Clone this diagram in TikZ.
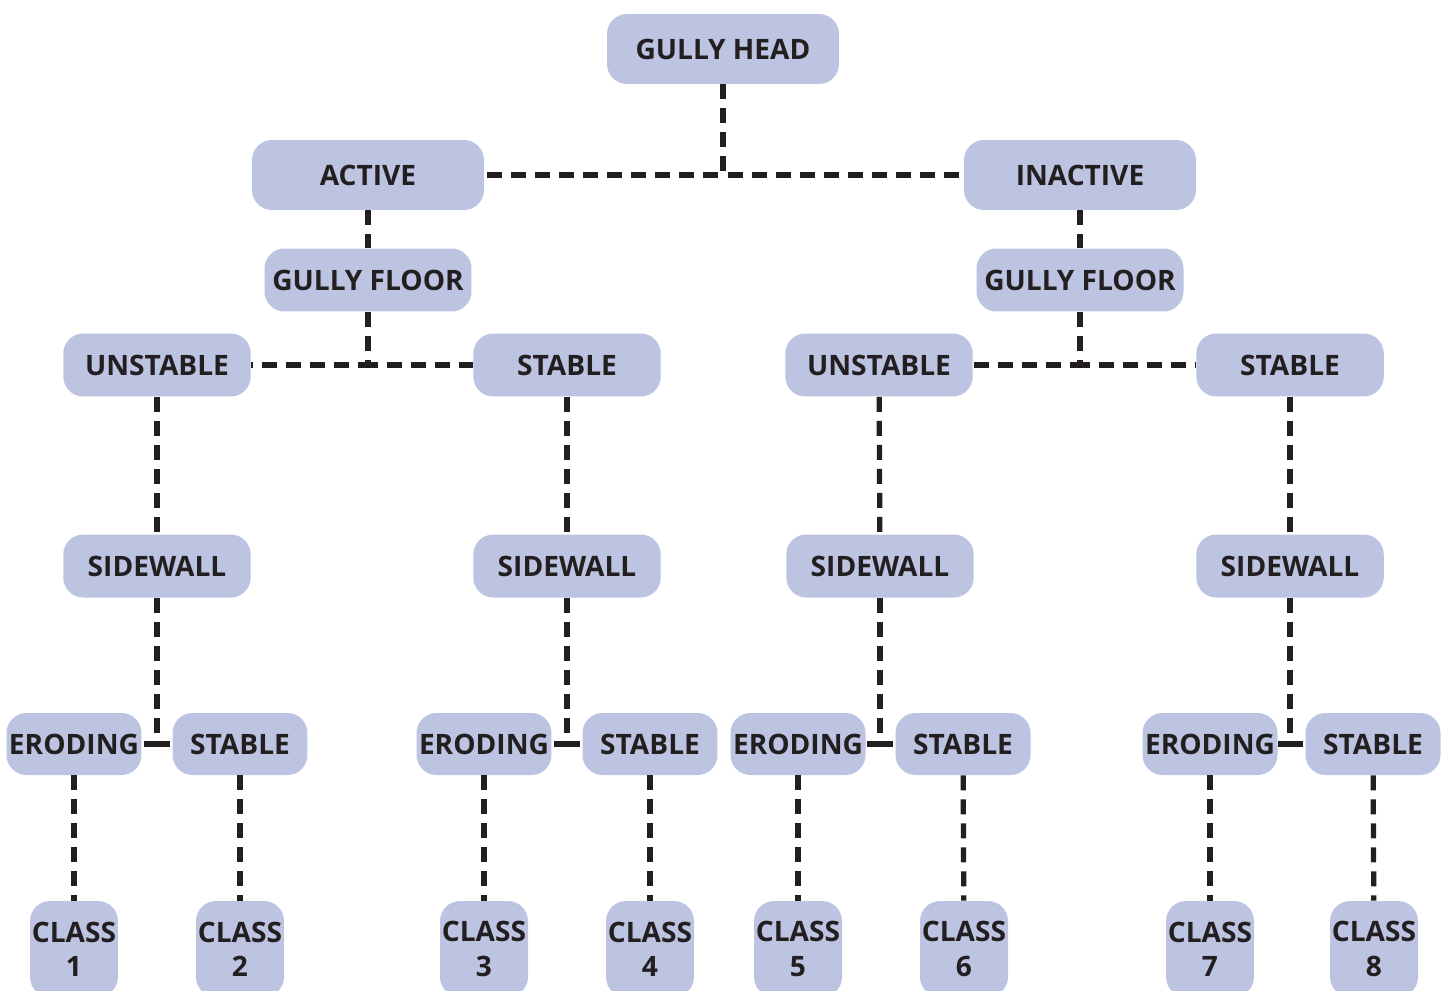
\documentclass[tikz,border=0pt]{standalone}
\usepackage{fontspec}
\setmainfont{Open Sans}
\definecolor{boxblue}{HTML}{BCC4E2}
\definecolor{ink}{HTML}{231F20}

\begin{document}
\begin{tikzpicture}[
		x=0.02cm, y=-0.02cm,
		box/.style={fill=boxblue, rounded corners=0.4cm, text=ink,
			font=\fontsize{16}{17}\selectfont\bfseries, inner sep=0pt},
		topbox/.style={box, minimum width=4.64cm, minimum height=1.4cm},
		floorbox/.style={box, minimum width=4.14cm, minimum height=1.26cm},
		sidebox/.style={box, minimum width=3.75cm, minimum height=1.26cm},
		leafbox/.style={box, minimum width=2.7cm, minimum height=1.24cm},
		classbox/.style={box, minimum width=1.76cm, minimum height=1.92cm,
			align=center, font=\fontsize{16}{19.5}\selectfont\bfseries},
		link/.style={draw=ink, line width=3pt, dash pattern=on 0.3cm off 0.18cm}
	]
		\useasboundingbox (0,0) rectangle (1442,990);
		\clip (0,0) rectangle (1442,990);
		% top levels
		\node[topbox] (head) at (723,49) {GULLY HEAD};
		\node[topbox] (active) at (368,175) {ACTIVE};
		\node[topbox] (inactive) at (1080,175) {INACTIVE};
		\node[floorbox] (floorA) at (368,280) {GULLY FLOOR};
		\node[floorbox] (floorB) at (1080,280) {GULLY FLOOR};
		% unstable / stable
		\node[sidebox] (unstA) at (157,365) {UNSTABLE};
		\node[sidebox] (stabA) at (567,365) {STABLE};
		\node[sidebox] (unstB) at (879,365) {UNSTABLE};
		\node[sidebox] (stabB) at (1290,365) {STABLE};
		% sidewalls
		\node[sidebox] (swA) at (157,566) {SIDEWALL};
		\node[sidebox] (swB) at (567,566) {SIDEWALL};
		\node[sidebox] (swC) at (880,566) {SIDEWALL};
		\node[sidebox] (swD) at (1290,566) {SIDEWALL};
		% eroding / stable
		\node[leafbox] (erA) at (74,744) {ERODING};
		\node[leafbox] (stA) at (240,744) {STABLE};
		\node[leafbox] (erB) at (484,744) {ERODING};
		\node[leafbox] (stB) at (650,744) {STABLE};
		\node[leafbox] (erC) at (798,744) {ERODING};
		\node[leafbox] (stC) at (963,744) {STABLE};
		\node[leafbox] (erD) at (1210,744) {ERODING};
		\node[leafbox] (stD) at (1373,744) {STABLE};
		% classes
		\node[classbox] (c1) at (74,949) {CLASS\\1};
		\node[classbox] (c2) at (240,949) {CLASS\\2};
		\node[classbox] (c3) at (484,949) {CLASS\\3};
		\node[classbox] (c4) at (650,949) {CLASS\\4};
		\node[classbox] (c5) at (798,949) {CLASS\\5};
		\node[classbox] (c6) at (964,949) {CLASS\\6};
		\node[classbox] (c7) at (1210,949) {CLASS\\7};
		\node[classbox] (c8) at (1374,949) {CLASS\\8};

		\draw[link] (head.south) |- (active.east);
		\draw[link] (head.south) |- (inactive.west);
		\draw[link] (active) -- (floorA);
		\draw[link] (inactive) -- (floorB);
		\draw[link] (floorA.south) |- (unstA.east);
		\draw[link] (floorA.south) |- (stabA.west);
		\draw[link] (floorB.south) |- (unstB.east);
		\draw[link] (floorB.south) |- (stabB.west);
		\draw[link] (unstA) -- (swA);
		\draw[link] (stabA) -- (swB);
		\draw[link] (unstB) -- (swC);
		\draw[link] (stabB) -- (swD);
		\draw[link] (swA.south) |- (erA.east);
		\draw[link] (swA.south) |- (stA.west);
		\draw[link] (swB.south) |- (erB.east);
		\draw[link] (swB.south) |- (stB.west);
		\draw[link] (swC.south) |- (erC.east);
		\draw[link] (swC.south) |- (stC.west);
		\draw[link] (swD.south) |- (erD.east);
		\draw[link] (swD.south) |- (stD.west);
		\draw[link] (erA) -- (c1);
		\draw[link] (stA) -- (c2);
		\draw[link] (erB) -- (c3);
		\draw[link] (stB) -- (c4);
		\draw[link] (erC) -- (c5);
		\draw[link] (stC) -- (c6);
		\draw[link] (erD) -- (c7);
		\draw[link] (stD) -- (c8);
	\end{tikzpicture}
\end{document}
